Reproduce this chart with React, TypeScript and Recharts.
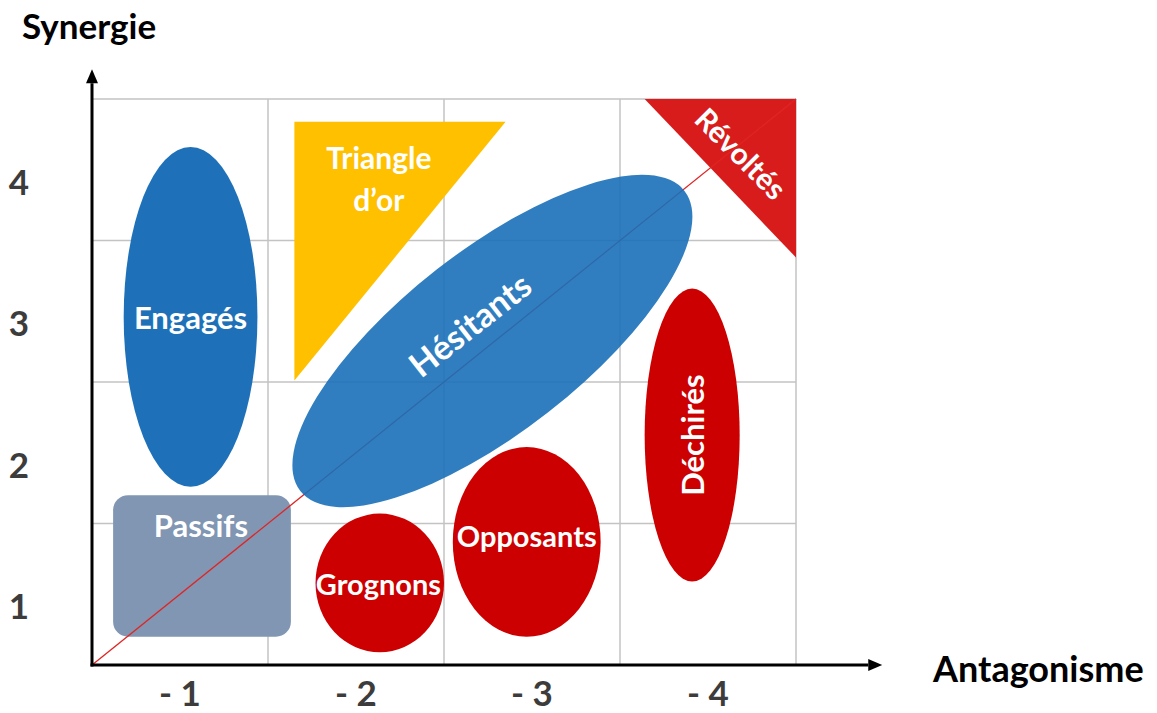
import React from 'react';
import { ComposedChart, XAxis, YAxis, ReferenceArea, ReferenceLine, Label } from 'recharts';

// graduations (au milieu des cases)
const X_TICKS = [0.5, 1.5, 2.5, 3.5];
const X_LABELS = ['- 1', '- 2', '- 3', '- 4'];
const Y_TICKS = [0.5, 1.5, 2.5, 3.5];
const Y_LABELS = ['1', '2', '3', '4'];
const GRID = [1, 2, 3, 4];

// zones : nom, étendue en x, étendue en y (unités du graphe)
const ZONES = ['Passifs', 'Engagés', 'Triangle d’or', 'Révoltés', 'Grognons', 'Opposants', 'Déchirés'];
const ZONE_X = [[0.12, 1.13], [0.18, 0.94], [1.15, 2.35], [3.14, 4], [1.27, 2.0], [2.05, 2.89], [3.14, 3.68]];
const ZONE_Y = [[0.2, 1.2], [1.26, 3.66], [2.01, 3.84], [2.88, 4], [0.09, 1.07], [0.2, 1.54], [0.59, 2.66]];

// ellipse inclinée, posée au-dessus de la diagonale
const HESITANTS = 'Hésitants';
const HESITANTS_X = [0.89, 3.66];
const HESITANTS_Y = [1.65, 2.93];

const DIAGONAL = [{ x: 0, y: 0 }, { x: 4, y: 4 }];
const X_ARROW = [{ x: 0, y: 0 }, { x: 4.49, y: 0 }];
const Y_ARROW = [{ x: 0, y: 0 }, { x: 0, y: 4.21 }];

const FONT = 'Lato, "Open Sans", sans-serif';

const STYLE: Record<string, any> = {
  'Passifs': { kind: 'rect', fill: '#8096b2', radius: 15, size: 31, lx: 0.494, ly: 0.21 },
  'Engagés': { kind: 'ellipse', fill: '#1e71b8', size: 31, lx: 0.5, ly: 0.5 },
  'Triangle d’or': { kind: 'triTL', fill: '#ffc000', size: 30, lx: 0.4, ly: 0.138, lineGap: 42 },
  'Révoltés': { kind: 'triTR', fill: '#d81c1c', size: 30, lx: 0.64, ly: 0.34, angle: 45 },
  'Grognons': { kind: 'ellipse', fill: '#cc0000', size: 29, lx: 0.49, ly: 0.5 },
  'Opposants': { kind: 'ellipse', fill: '#cc0000', size: 29, lx: 0.5, ly: 0.463 },
  'Déchirés': { kind: 'ellipse', fill: '#cc0000', size: 31, lx: 0.5, ly: 0.5, angle: -90 },
  'Hésitants': { kind: 'ellipse', fill: '#1a70b8', opacity: 0.9, size: 34, lx: 0.484, ly: 0.345, rotate: -38 },
};

const renderZone = (name: string) => (p: any) => {
  const { x, y, width: w, height: h } = p;
  const s = STYLE[name];
  const cx = x + w / 2;
  const cy = y + h / 2;
  let body;
  if (s.kind === 'ellipse') {
    body = <ellipse cx={cx} cy={cy} rx={w / 2} ry={h / 2} fill={s.fill} fillOpacity={s.opacity ?? 1} />;
  } else if (s.kind === 'rect') {
    body = <rect x={x} y={y} width={w} height={h} rx={s.radius} ry={s.radius} fill={s.fill} />;
  } else if (s.kind === 'triTL') {
    body = <polygon points={`${x},${y} ${x + w},${y} ${x},${y + h}`} fill={s.fill} />;
  } else {
    body = <polygon points={`${x},${y} ${x + w},${y} ${x + w},${y + h}`} fill={s.fill} />;
  }
  const tx = x + w * s.lx;
  const ty = y + h * s.ly;
  const lines = s.lineGap ? name.split(' ') : [name];
  const text = (
    <text
      x={tx}
      y={ty}
      fill="#fff"
      fontFamily={FONT}
      fontWeight={700}
      fontSize={s.size}
      textAnchor="middle"
      dominantBaseline="central"
      transform={s.angle ? `rotate(${s.angle} ${tx} ${ty})` : undefined}
    >
      {lines.map((l: string, i: number) => (
        <tspan key={i} x={tx} dy={i === 0 ? 0 : s.lineGap}>{l}</tspan>
      ))}
    </text>
  );
  return (
    <g transform={s.rotate ? `rotate(${s.rotate} ${cx} ${cy})` : undefined}>
      {body}
      {text}
    </g>
  );
};

const renderArrow = (p: any) => {
  const { x1, y1, x2, y2 } = p;
  const len = Math.hypot(x2 - x1, y2 - y1) || 1;
  const ux = (x2 - x1) / len;
  const uy = (y2 - y1) / len;
  const head = 14;
  const half = 6;
  const bx = x2 - ux * head;
  const by = y2 - uy * head;
  return (
    <g>
      <line x1={x1 - ux * 1.5} y1={y1 - uy * 1.5} x2={bx} y2={by} stroke="#000" strokeWidth={3} />
      <polygon
        points={`${x2},${y2} ${bx - uy * half},${by + ux * half} ${bx + uy * half},${by - ux * half}`}
        fill="#000"
      />
    </g>
  );
};

const XTick = (p: any) => {
  const i = X_TICKS.indexOf(p.payload.value);
  return (
    <text x={p.x} y={p.y + 41} textAnchor="middle" fill="#3c3c3c" fontFamily={FONT} fontWeight={700} fontSize={35}>
      {X_LABELS[i]}
    </text>
  );
};

const YTick = (p: any) => {
  const i = Y_TICKS.indexOf(p.payload.value);
  return (
    <text x={p.x - 73} y={p.y + 25} textAnchor="middle" fill="#3c3c3c" fontFamily={FONT} fontWeight={700} fontSize={35}>
      {Y_LABELS[i]}
    </text>
  );
};

export default function App() {
  return (
    <div style={{ width: 1157, height: 713, background: '#fff' }}>
      <style>{'body{margin:0;}'}</style>
      <ComposedChart width={1157} height={713} margin={{ top: 99, right: 361, bottom: 0, left: 0 }}>
        <XAxis
          type="number"
          dataKey="x"
          domain={[0, 4]}
          ticks={X_TICKS}
          interval={0}
          allowDataOverflow
          axisLine={false}
          tickLine={false}
          tickSize={0}
          tickMargin={0}
          height={48}
          tick={<XTick />}
        >
          <Label
            content={(props: any) => {
              const vb = props.viewBox;
              return (
                <text x={vb.x + vb.width + 137} y={vb.y + 17} fill="#000" fontFamily={FONT} fontWeight={700} fontSize={36}>
                  Antagonisme
                </text>
              );
            }}
          />
        </XAxis>
        <YAxis
          type="number"
          dataKey="y"
          domain={[0, 4]}
          ticks={Y_TICKS}
          interval={0}
          allowDataOverflow
          axisLine={false}
          tickLine={false}
          tickSize={0}
          tickMargin={0}
          width={92}
          tick={<YTick />}
        >
          <Label
            content={(props: any) => {
              const vb = props.viewBox;
              return (
                <text x={vb.x + 22} y={vb.y - 60} fill="#000" fontFamily={FONT} fontWeight={700} fontSize={35}>
                  Synergie
                </text>
              );
            }}
          />
        </YAxis>

        {GRID.map((v) => (
          <ReferenceLine key={'gx' + v} x={v} stroke="#c3c3c3" strokeWidth={1.5} zIndex={10} />
        ))}
        {GRID.map((v) => (
          <ReferenceLine key={'gy' + v} y={v} stroke="#c3c3c3" strokeWidth={1.5} zIndex={10} />
        ))}

        {ZONES.map((name, i) => (
          <ReferenceArea
            key={name}
            x1={ZONE_X[i][0]}
            x2={ZONE_X[i][1]}
            y1={ZONE_Y[i][0]}
            y2={ZONE_Y[i][1]}
            shape={renderZone(name)}
            zIndex={20}
          />
        ))}

        <ReferenceLine segment={DIAGONAL} stroke="#e02424" strokeWidth={1.3} zIndex={30} />

        <ReferenceArea
          x1={HESITANTS_X[0]}
          x2={HESITANTS_X[1]}
          y1={HESITANTS_Y[0]}
          y2={HESITANTS_Y[1]}
          shape={renderZone(HESITANTS)}
          zIndex={40}
        />

        <ReferenceLine segment={X_ARROW} ifOverflow="visible" shape={renderArrow} zIndex={50} />
        <ReferenceLine segment={Y_ARROW} ifOverflow="visible" shape={renderArrow} zIndex={50} />
      </ComposedChart>
    </div>
  );
}
